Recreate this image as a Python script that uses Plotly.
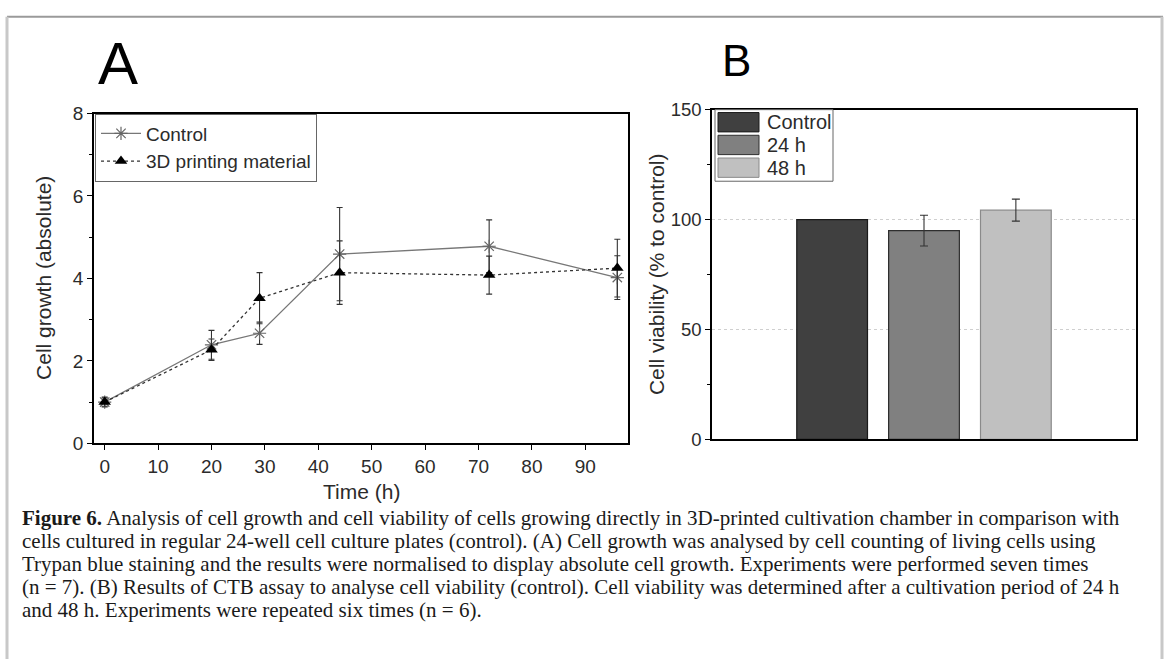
import plotly.graph_objects as go

W, H = 1167, 670

# ---------------- data ----------------
time_h = [0, 20, 29, 44, 72, 96]
control_growth = [1.0, 2.39, 2.67, 4.59, 4.78, 4.02]
control_err = [0.12, 0.35, 0.27, 1.13, 0.64, 0.53]
material_growth = [1.0, 2.27, 3.52, 4.14, 4.08, 4.25]
material_err = [0.10, 0.26, 0.62, 0.77, 0.46, 0.70]

series_names_a = ["Control", "3D printing material"]

viability_groups = ["Control", "24 h", "48 h"]
viability_values = [100, 95, 104.3]
viability_err = [0, 7, 5]
viability_colors = ["#404040", "#808080", "#c0c0c0"]
viability_edges = ["#1a1a1a", "#2e2e2e", "#8a8a8a"]

xticks_a = [0, 10, 20, 30, 40, 50, 60, 70, 80, 90]
yticks_a = [0, 2, 4, 6, 8]
yticks_b = [0, 50, 100, 150]

caption_lines = [
    "<b>Figure 6.</b> Analysis of cell growth and cell viability of cells growing directly in 3D-printed cultivation chamber in comparison with",
    "cells cultured in regular 24-well cell culture plates (control). (A) Cell growth was analysed by cell counting of living cells using",
    "Trypan blue staining and the results were normalised to display absolute cell growth. Experiments were performed seven times",
    "(n = 7). (B) Results of CTB assay to analyse cell viability (control). Cell viability was determined after a cultivation period of 24 h",
    "and 48 h. Experiments were repeated six times (n = 6).",
]


def px(x):
    return x / W


def py(y):
    return 1 - y / H


SANS = "Liberation Sans, Arial, sans-serif"
SERIF = "Liberation Serif, Times New Roman, serif"
TXT = "#2b2b2b"
TICK_A = 19
TICK_B = 18.5
TITLE_FS = 21
LEG_FS = 19

fig = go.Figure()

# ---------------- panel A ----------------
fig.add_trace(go.Scatter(
    x=time_h, y=control_growth, name=series_names_a[0], mode="lines+markers",
    xaxis="x", yaxis="y",
    line=dict(color="#777777", width=1.3),
    marker=dict(symbol="asterisk-open", size=11, color="#666666",
                line=dict(color="#666666", width=1.2)),
    error_y=dict(type="data", array=control_err, color="#333333", thickness=1.1, width=3),
    legend="legend",
))
fig.add_trace(go.Scatter(
    x=time_h, y=material_growth, name=series_names_a[1], mode="lines+markers",
    xaxis="x", yaxis="y",
    line=dict(color="#333333", width=1.3, dash="dot"),
    marker=dict(symbol="triangle-up", size=11, color="black"),
    error_y=dict(type="data", array=material_err, color="#333333", thickness=1.1, width=3),
    legend="legend",
))

# ---------------- panel B ----------------
for name, val, err, col, edge in zip(viability_groups, viability_values, viability_err,
                                     viability_colors, viability_edges):
    fig.add_trace(go.Bar(
        x=["B"], y=[val], name=name, xaxis="x2", yaxis="y2",
        marker=dict(color=col, line=dict(color=edge, width=1.2)),
        error_y=dict(type="data", array=[err], color="#333333", thickness=1.1, width=4,
                     visible=err > 0),
        showlegend=False,
    ))

axis_common = dict(showline=True, linecolor="black", linewidth=1.6, mirror=True,
                   showgrid=False, zeroline=False, ticks="outside", tickcolor="black",
                   tickwidth=1.3, ticklen=5,
                   tickfont=dict(family=SANS, size=TICK_A, color=TXT))

fig.update_layout(
    width=W, height=H,
    margin=dict(l=0, r=0, t=0, b=0),
    paper_bgcolor="white", plot_bgcolor="white",
    barmode="group", bargap=0.35, bargroupgap=0.23,
    xaxis=dict(domain=[px(94), px(628)], range=[-2, 98], tickvals=xticks_a,
               anchor="y", **axis_common),
    yaxis=dict(domain=[py(447), py(106)], range=[0, 8], tickvals=yticks_a,
               anchor="x",
               minor=dict(dtick=1, ticks="outside", ticklen=3, tickcolor="black",
                          tickwidth=1.2, showgrid=False),
               **axis_common),
    xaxis2=dict(domain=[px(712), px(1136)], type="category", range=[-0.5, 0.5],
                anchor="y2", showticklabels=False,
                showline=True, linecolor="black", linewidth=1.6, mirror=True,
                showgrid=False, zeroline=False, ticks=""),
    yaxis2=dict(domain=[py(443), py(102)], range=[0, 150], tickvals=yticks_b,
                anchor="x2",
                showline=True, linecolor="black", linewidth=1.6, mirror=True,
                zeroline=False, ticks="outside", tickcolor="black",
                tickwidth=1.3, ticklen=5,
                tickfont=dict(family=SANS, size=TICK_B, color=TXT),
                showgrid=True, gridcolor="#cfcfcf", gridwidth=1, griddash="dot",
                minor=dict(dtick=25, ticks="outside", ticklen=3, tickcolor="black",
                           tickwidth=1.2, showgrid=False)),
    legend=dict(x=px(95), y=py(106), xanchor="left", yanchor="top",
                bgcolor="white", bordercolor="#666666", borderwidth=1,
                font=dict(family=SANS, size=LEG_FS, color=TXT),
                itemwidth=40, tracegroupgap=0),
    showlegend=True,
)

annotations = []
shapes = []

# panel letters
annotations.append(dict(text="A", x=px(118), y=py(54), xref="paper", yref="paper",
                        showarrow=False, font=dict(family=SANS, size=60, color="black"),
                        xanchor="center", yanchor="middle"))
annotations.append(dict(text="B", x=px(736), y=py(51), xref="paper", yref="paper",
                        showarrow=False, font=dict(family=SANS, size=44, color="black"),
                        xanchor="center", yanchor="middle"))

# axis titles
annotations.append(dict(text="Time (h)", x=px(361), y=py(497), xref="paper", yref="paper",
                        showarrow=False, font=dict(family=SANS, size=TITLE_FS, color=TXT),
                        xanchor="center", yanchor="middle"))
annotations.append(dict(text="Cell growth (absolute)", x=px(44), y=py(276), xref="paper",
                        yref="paper", showarrow=False, textangle=-90,
                        font=dict(family=SANS, size=TITLE_FS, color=TXT),
                        xanchor="center", yanchor="middle"))
annotations.append(dict(text="Cell viability (% to control)", x=px(656), y=py(272),
                        xref="paper", yref="paper", showarrow=False, textangle=-90,
                        font=dict(family=SANS, size=TITLE_FS, color=TXT),
                        xanchor="center", yanchor="middle"))

# manual legend for panel B (large swatches)
shapes.append(dict(type="rect", xref="paper", yref="paper",
                   x0=px(715), x1=px(833), y0=py(176), y1=py(102),
                   line=dict(color="#666666", width=1), fillcolor="white", layer="above"))
row_centers = [115, 138.5, 162]
for name, col, edge, yc in zip(viability_groups, viability_colors, viability_edges, row_centers):
    shapes.append(dict(type="rect", xref="paper", yref="paper",
                       x0=px(718), x1=px(759), y0=py(yc + 10), y1=py(yc - 10),
                       line=dict(color=edge, width=1), fillcolor=col, layer="above"))
    annotations.append(dict(text=name, x=px(765), y=py(yc), xref="paper", yref="paper",
                            showarrow=False, xanchor="left", yanchor="middle",
                            font=dict(family=SANS, size=LEG_FS + 1, color=TXT)))

# caption
cap_y = [524, 548, 572, 596, 619]
for line, yc in zip(caption_lines, cap_y):
    annotations.append(dict(text=line, x=px(20), y=py(yc), xref="paper", yref="paper",
                            showarrow=False, xanchor="left", yanchor="middle",
                            font=dict(family=SERIF, size=21, color="#1a1a1a")))

# frame around the figure
shapes.append(dict(type="line", xref="paper", yref="paper", x0=px(7), x1=px(1163),
                   y0=py(6), y1=py(6), line=dict(color="#9a9a9a", width=2)))
shapes.append(dict(type="line", xref="paper", yref="paper", x0=px(7), x1=px(7),
                   y0=py(6), y1=0, line=dict(color="#c8c8c8", width=3)))
shapes.append(dict(type="line", xref="paper", yref="paper", x0=px(1162), x1=px(1162),
                   y0=py(6), y1=0, line=dict(color="#c8c8c8", width=3)))

fig.update_layout(annotations=annotations, shapes=shapes)

fig.write_html("out.html")
